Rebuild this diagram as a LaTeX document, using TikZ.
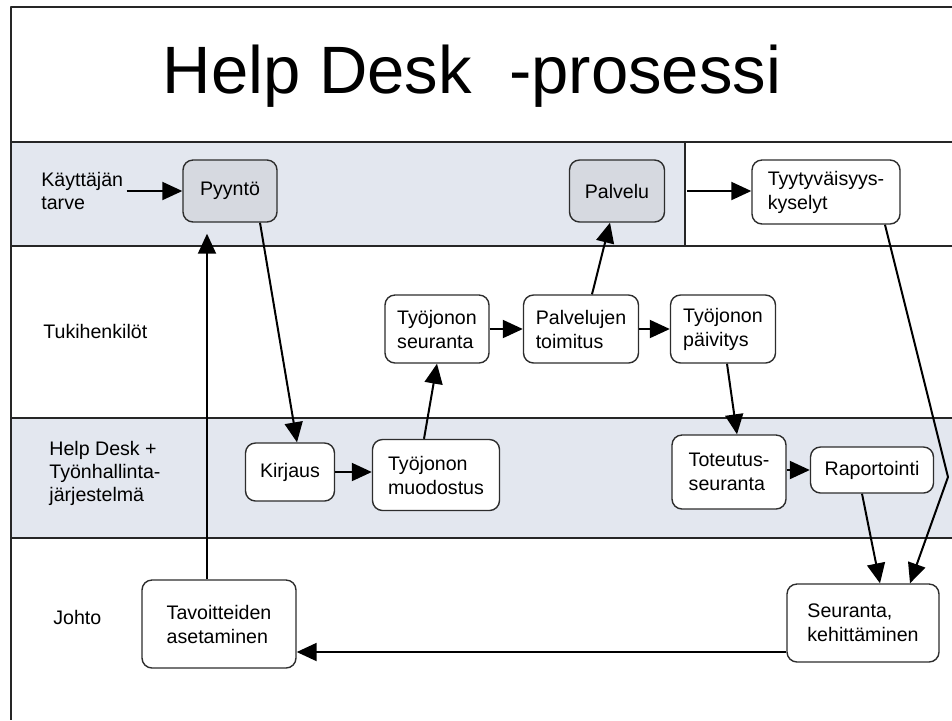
\documentclass[tikz,border=0pt]{standalone}
\usepackage{fontspec}
\setmainfont{Liberation Sans}
\usetikzlibrary{arrows.meta}

\definecolor{lanefill}{RGB}{227,231,239}
\definecolor{boxfill}{RGB}{214,217,224}
\definecolor{boxline}{RGB}{45,45,45}

\tikzset{
  task/.style={draw=boxline, line width=0.7pt, rounded corners=5pt, fill=white,
    align=left, inner sep=2pt, font=\fontsize{9.8}{12}\selectfont},
  usertask/.style={task, fill=boxfill},
  lanelabel/.style={anchor=west, align=left, inner sep=1.5pt, font=\fontsize{9.8}{11.5}\selectfont},
  laneline/.style={line width=0.8pt, draw=black!85},
  flow/.style={->, line width=1pt}
}

\begin{document}
\begin{tikzpicture}[x=0.5pt, y=-0.5pt, >={Triangle[length=10pt,width=9pt]}, line join=round]
 \useasboundingbox (0,0) rectangle (952,720);
 % lanes
 \fill[lanefill] (11,142) rectangle (685,246);
 \fill[lanefill] (11,418) rectangle (952,538);
 \draw[laneline] (952,7)--(11,7)--(11,720);
 \foreach \y in {142,246,418,538}
 \draw[laneline] (11,\y)--(952,\y);
 \draw[laneline] (685,142)--(685,246);

 \node[anchor=base, font=\fontsize{33.5}{40}\selectfont] (title) at (472,93) {Help Desk\ \ -prosessi};

 % lane labels
 \node[lanelabel] (tarve) at (38,191) {Käyttäjän\\tarve};
 \node[lanelabel] (tuki) at (40,331) {Tukihenkilöt};
 \node[lanelabel] (helpdesk) at (46,473) {Help Desk +\\Työnhallinta-\\järjestelmä};
 \node[lanelabel] (johto) at (50,617) {Johto};

 % tasks
 \node[usertask, minimum width=47pt, minimum height=31pt] (pyynto) at (230,191) {Pyyntö};
 \node[usertask, minimum width=47.5pt, minimum height=31pt] (palvelu) at (617,191) {Palvelu};
 \node[task, minimum width=74pt, minimum height=32pt] (kysely) at (826,192) {Tyytyväisyys-\\kyselyt};
 \node[task, minimum width=52pt, minimum height=34pt] (jseuranta) at (437,329) {Työjonon\\seuranta};
 \node[task, minimum width=57.5pt, minimum height=34pt] (toimitus) at (581,329) {Palvelujen\\toimitus};
 \node[task, minimum width=52.5pt, minimum height=34pt] (paivitys) at (723,329) {Työjonon\\päivitys};
 \node[task, minimum width=44.5pt, minimum height=29pt] (kirjaus) at (290,472) {Kirjaus};
 \node[task, minimum width=63.5pt, minimum height=35.5pt] (muodostus) at (436,475) {Työjonon\\muodostus};
 \node[task, minimum width=57pt, minimum height=37pt] (toteutus) at (729,472) {Toteutus-\\seuranta};
 \node[task, minimum width=61.5pt, minimum height=23pt] (raportointi) at (872,470) {Raportointi};
 \node[task, minimum width=77pt, minimum height=44pt] (tavoite) at (219,624) {Tavoitteiden\\asetaminen};
 \node[task, minimum width=76pt, minimum height=39pt] (seuranta) at (863,623) {Seuranta,\\kehittäminen};
 \coordinate (kulma) at (948,477);

 % flows
 \draw[flow] (tarve.east |- pyynto.west) -- (pyynto.west);
 \draw[flow] ([xshift=15pt]pyynto.south) -- ([xshift=3.5pt]kirjaus.north);
 \draw[flow] (kirjaus.east) -- (kirjaus.east -| muodostus.west);
 \draw[flow] ([xshift=-6pt]muodostus.north) -- (jseuranta.south);
 \draw[flow] (jseuranta.east) -- (toimitus.west);
 \draw[flow] ([xshift=5.5pt]toimitus.north) -- ([xshift=-3.5pt]palvelu.south);
 \draw[flow, shorten <=11pt] (palvelu.east) -- (palvelu.east -| kysely.west);
 \draw[flow] (toimitus.east) -- (paivitys.west);
 \draw[flow] ([xshift=2pt]paivitys.south) -- ([xshift=4pt]toteutus.north);
 \draw[flow] (toteutus.east |- raportointi.west) -- (raportointi.west);
 \draw[flow] ([xshift=-5pt]raportointi.south) -- ([xshift=8.5pt]seuranta.north);
 \draw[flow] ([xshift=29.5pt]kysely.south) -- (kulma) -- ([xshift=23.5pt]seuranta.north);
 \draw[flow] ([yshift=-14.5pt]seuranta.west) -- ([yshift=-14.5pt]seuranta.west -| tavoite.east);
 \draw[flow, shorten >=5.5pt] ([xshift=-6pt]tavoite.north) -- ([xshift=-6pt]tavoite.north |- pyynto.south);
\end{tikzpicture}
\end{document}
